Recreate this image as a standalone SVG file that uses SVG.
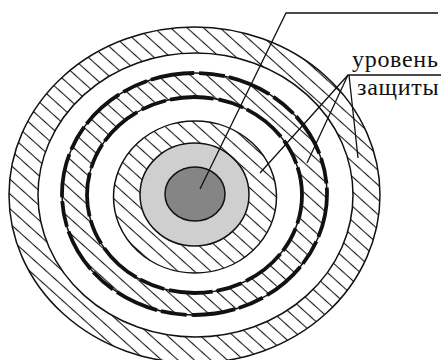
<svg xmlns="http://www.w3.org/2000/svg" width="443" height="360" viewBox="0 0 443 360">
<style>
.ring{stroke:#111;stroke-width:1.5}
.dash{fill:none;stroke:#111;stroke-width:3.8;stroke-dasharray:44 5 26 4}
.lead{fill:none;stroke:#111;stroke-width:1.3}
.lbl{font-family:"Liberation Serif","Times New Roman",serif;font-size:24px;letter-spacing:0.7px;fill:#111}
</style>
<defs>
<pattern id="hatch" patternUnits="userSpaceOnUse" width="11" height="11" patternTransform="rotate(42)">
<rect width="11" height="11" fill="#fff"/>
<line x1="0" y1="5.5" x2="11" y2="5.5" stroke="#1a1a1a" stroke-width="1.1"/>
</pattern>
</defs>
<rect width="443" height="360" fill="#fff"/>
<g id="outer-ring">
<ellipse class="ring" cx="194.5" cy="195" rx="185.5" ry="168" fill="url(#hatch)"/>
<ellipse class="ring" cx="195.5" cy="195" rx="157.5" ry="142" fill="#fff"/>
</g>
<g id="middle-ring">
<ellipse class="ring" cx="194.5" cy="194" rx="132.5" ry="121" fill="url(#hatch)"/>
<ellipse class="dash" cx="194.5" cy="194" rx="132.5" ry="121"/>
<ellipse class="ring" cx="194.5" cy="195" rx="107.5" ry="98" fill="#fff"/>
<ellipse class="dash" cx="194.5" cy="195" rx="107.5" ry="98" style="stroke-dashoffset:15"/>
</g>
<g id="inner-ring">
<ellipse class="ring" cx="195" cy="197" rx="81.5" ry="76" fill="url(#hatch)"/>
</g>
<g id="light-core">
<ellipse class="ring" cx="194.5" cy="194.5" rx="54.5" ry="51.5" fill="#cfcfcf"/>
</g>
<g id="dark-core">
<ellipse class="ring" cx="195" cy="194" rx="30" ry="27" fill="#858585"/>
</g>
<g id="connectors">
<polyline class="lead" points="438,13 286,13 200,189"/>
<polyline class="lead" points="441,75 348,75 260,173"/>
<line class="lead" x1="348" y1="75" x2="307" y2="163"/>
<line class="lead" x1="349" y1="75" x2="358" y2="158"/>
</g>
<g id="label">
<text class="lbl" x="352" y="67">уровень</text>
<text class="lbl" x="357" y="95">защиты</text>
</g>
</svg>
